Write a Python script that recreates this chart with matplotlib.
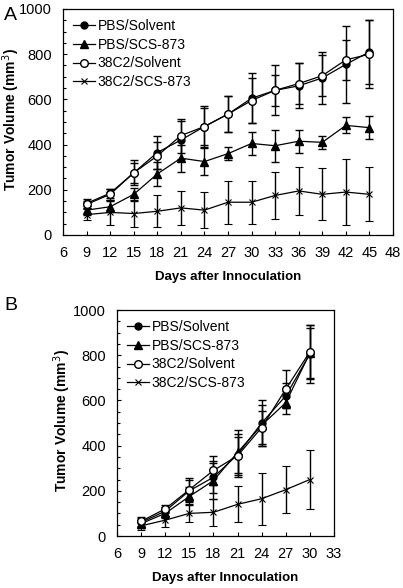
import matplotlib.pyplot as plt
from matplotlib.lines import Line2D
from matplotlib.ticker import MultipleLocator

plt.rcParams['font.family'] = ['Liberation Sans', 'DejaVu Sans']

labels = ["PBS/Solvent", "PBS/SCS-873", "38C2/Solvent", "38C2/SCS-873"]

# panel A
daysA = [9, 12, 15, 18, 21, 24, 27, 30, 33, 36, 39, 42, 45]
pbsSolventA = [140, 185, 275, 365, 420, 480, 535, 605, 640, 660, 695, 755, 810]
pbsScsA = [110, 125, 180, 270, 340, 325, 360, 405, 395, 415, 410, 485, 475]
c2SolventA = [135, 180, 275, 350, 440, 480, 535, 595, 640, 670, 705, 775, 800]
c2ScsA = [90, 100, 95, 105, 120, 110, 145, 145, 175, 195, 180, 190, 180]
pbsSolventErrA = [20, 20, 55, 75, 85, 90, 80, 110, 110, 100, 115, 170, 140]
pbsScsErrA = [20, 25, 30, 55, 60, 60, 30, 50, 70, 50, 30, 35, 50]
c2SolventErrA = [15, 25, 45, 60, 75, 80, 80, 100, 70, 90, 90, 90, 150]
c2ScsErrA = [25, 55, 60, 70, 75, 80, 95, 95, 105, 105, 115, 145, 120]

# panel B
daysB = [9, 12, 15, 18, 21, 24, 27, 30]
pbsSolventB = [60, 110, 200, 260, 360, 500, 620, 805]
pbsScsB = [55, 100, 175, 245, 370, 490, 590, 810]
c2SolventB = [65, 120, 205, 290, 355, 480, 650, 815]
c2ScsB = [45, 70, 100, 105, 140, 165, 205, 250]
pbsSolventErrB = [20, 20, 50, 70, 80, 100, 55, 130]
pbsScsErrB = [15, 20, 40, 80, 100, 90, 50, 110]
c2SolventErrB = [20, 15, 50, 65, 95, 75, 85, 120]
c2ScsErrB = [20, 30, 40, 60, 80, 115, 105, 130]

styles = [dict(marker='o', mfc='black', ms=5),
          dict(marker='^', mfc='black', ms=6),
          dict(marker='o', mfc='white', ms=5.5),
          dict(marker='x', mfc='black', ms=4.5, mew=0.8)]


def drawPanel(ax, days, series, errs, xmax, labelX):
    handles = []
    for y, e, lab, st in zip(series, errs, labels, styles):
        ax.errorbar(days, y, yerr=e, color='black', mec='black', lw=0.9,
                    elinewidth=1.0, capsize=3, capthick=1.0, **st)
        handles.append(Line2D([], [], color='black', mec='black', lw=0.9, label=lab, **st))
    ax.set_xlim(6, xmax)
    ax.set_ylim(0, 1000)
    ax.xaxis.set_major_locator(MultipleLocator(3))
    ax.yaxis.set_major_locator(MultipleLocator(200))
    ax.yaxis.set_minor_locator(MultipleLocator(50))
    ax.tick_params(direction='in', labelsize=10.5, length=3, width=0.8, pad=8)
    ax.tick_params(which='minor', direction='in', length=2, width=0.8)
    for s in ax.spines.values():
        s.set_linewidth(0.9)
    ax.set_xlabel("Days after Innoculation", fontsize=9.5, fontweight='bold', labelpad=8)
    ax.set_ylabel("Tumor Volume (mm$^3$)", fontsize=10, fontweight='bold')
    ax.yaxis.set_label_coords(labelX, 0.51)
    ax.legend(handles=handles, loc='upper left', frameon=False, fontsize=10,
              handlelength=1.6, handletextpad=0.2, borderaxespad=0.3,
              labelspacing=0.35)


fig = plt.figure(figsize=(4.03, 5.88), dpi=100)
axA = fig.add_axes([63 / 403, 1 - 235 / 588, 330 / 403, 226 / 588])
axB = fig.add_axes([117 / 403, 1 - 536 / 588, 217 / 403, 226 / 588])

drawPanel(axA, daysA, [pbsSolventA, pbsScsA, c2SolventA, c2ScsA],
          [pbsSolventErrA, pbsScsErrA, c2SolventErrA, c2ScsErrA], 48, -0.125)
drawPanel(axB, daysB, [pbsSolventB, pbsScsB, c2SolventB, c2ScsB],
          [pbsSolventErrB, pbsScsErrB, c2SolventErrB, c2ScsErrB], 33, -0.205)

fig.text(4 / 403, 1 - 15 / 588, "A", fontsize=14, va='center')
fig.text(4 / 403, 1 - 305 / 588, "B", fontsize=14, va='center')

fig.savefig("out.png", dpi=100)
